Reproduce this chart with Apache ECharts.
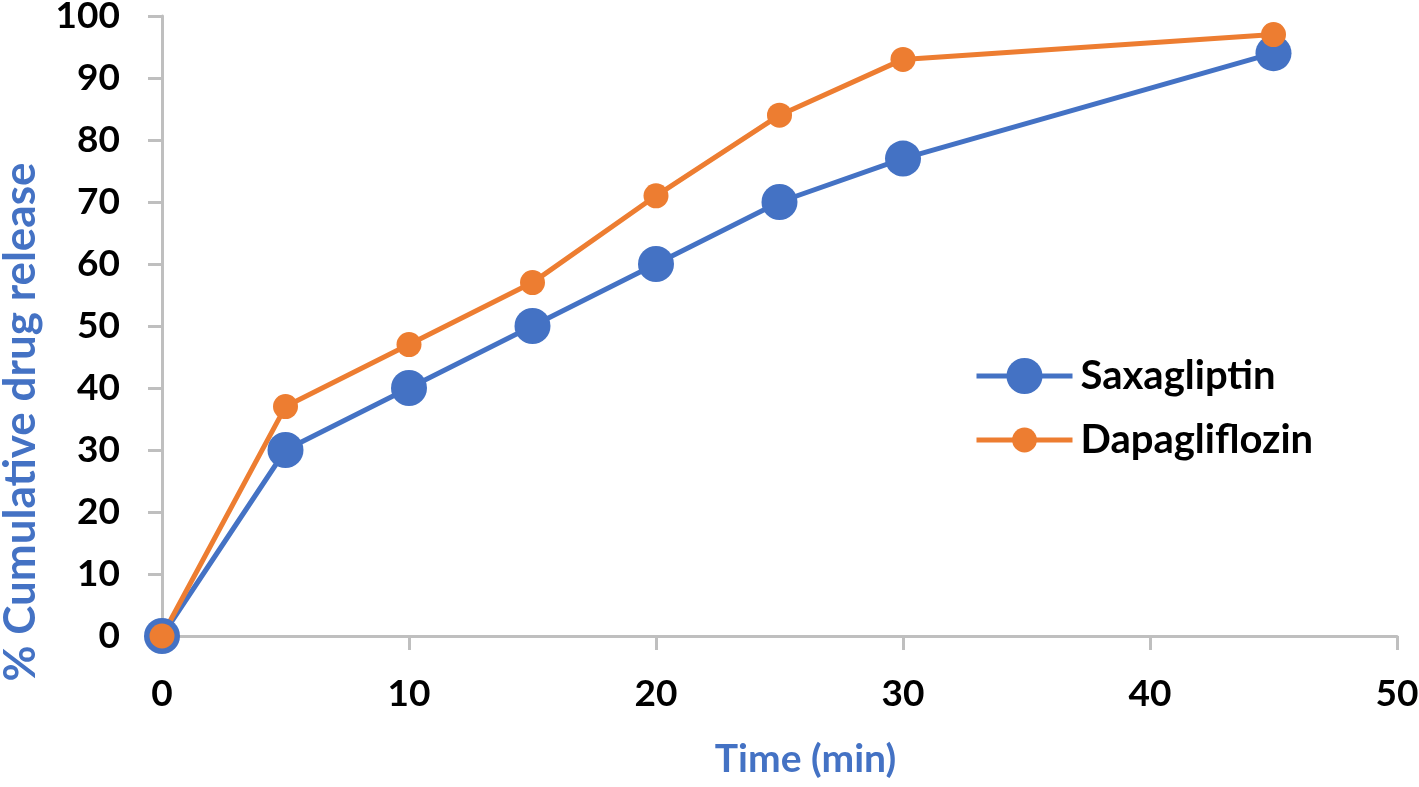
<!DOCTYPE html>
<html><head><meta charset="utf-8">
<script src="https://cdn.jsdelivr.net/npm/echarts@6/dist/echarts.min.js"></script>
<style>html,body{margin:0;padding:0;background:#fff}#c{width:1419px;height:787px}</style>
</head><body><div id="c"></div>
<script>
const timeMin = [0, 5, 10, 15, 20, 25, 30, 45];
const saxagliptin = [0, 30, 40, 50, 60, 70, 77, 94];
const dapagliflozin = [0, 37, 47, 57, 71, 84, 93, 97];
const seriesNames = ['Saxagliptin', 'Dapagliflozin'];
const xTitle = 'Time (min)';
const yTitle = '% Cumulative drug release';

const FONT = 'Lato';
const BLUE = '#4472c4', ORANGE = '#ed7d31';
const chart = echarts.init(document.getElementById('c'), null, {renderer: 'canvas'});
const axisCommon = {
  axisLine: {show: true, lineStyle: {color: '#bfbfbf', width: 3}},
  axisTick: {show: true, inside: false, length: 14, lineStyle: {color: '#bfbfbf', width: 3}},
  splitLine: {show: false},
  axisLabel: {color: '#000', fontFamily: FONT, fontWeight: 'bold', fontSize: 37}
};
const legendText = {color: '#000', fontFamily: FONT, fontWeight: 'bold', fontSize: 40, padding: [0, 0, 0, 3]};
chart.setOption({
  animation: false,
  grid: {left: 162, right: 22, top: 16, bottom: 151, containLabel: false, outerBoundsMode: 'none'},
  legend: [
    {
      left: 974, top: 356, padding: 0, orient: 'vertical',
      itemWidth: 96, itemHeight: 45,
      lineStyle: {width: 5},
      textStyle: legendText,
      data: [seriesNames[0]]
    },
    {
      left: 974, top: 420, padding: 0, orient: 'vertical',
      itemWidth: 96, itemHeight: 31,
      lineStyle: {width: 5},
      textStyle: legendText,
      data: [seriesNames[1]]
    }
  ],
  xAxis: Object.assign({}, axisCommon, {
    type: 'value', min: 0, max: 50, interval: 10,
    name: xTitle, nameLocation: 'middle', nameGap: 104,
    nameTextStyle: {color: BLUE, fontFamily: FONT, fontWeight: 'bold', fontSize: 39, padding: [0, 0, 0, 52]},
    axisLabel: Object.assign({}, axisCommon.axisLabel, {margin: 40})
  }),
  yAxis: Object.assign({}, axisCommon, {
    type: 'value', min: 0, max: 100, interval: 10,
    name: yTitle, nameLocation: 'middle', nameGap: 119,
    nameTextStyle: {color: BLUE, fontFamily: FONT, fontWeight: 'bold', fontSize: 44, padding: [0, 192, 0, 0]},
    axisLabel: Object.assign({}, axisCommon.axisLabel, {margin: 42})
  }),
  series: [
    {
      name: seriesNames[0], type: 'line', clip: false,
      data: timeMin.map((t, i) => [t, saxagliptin[i]]),
      symbol: 'circle', symbolSize: 36,
      lineStyle: {color: BLUE, width: 5},
      itemStyle: {color: BLUE}
    },
    {
      name: seriesNames[1], type: 'line', clip: false,
      data: timeMin.map((t, i) => [t, dapagliflozin[i]]),
      symbol: 'circle', symbolSize: 25,
      lineStyle: {color: ORANGE, width: 5},
      itemStyle: {color: ORANGE}
    }
  ]
});
</script></body></html>
